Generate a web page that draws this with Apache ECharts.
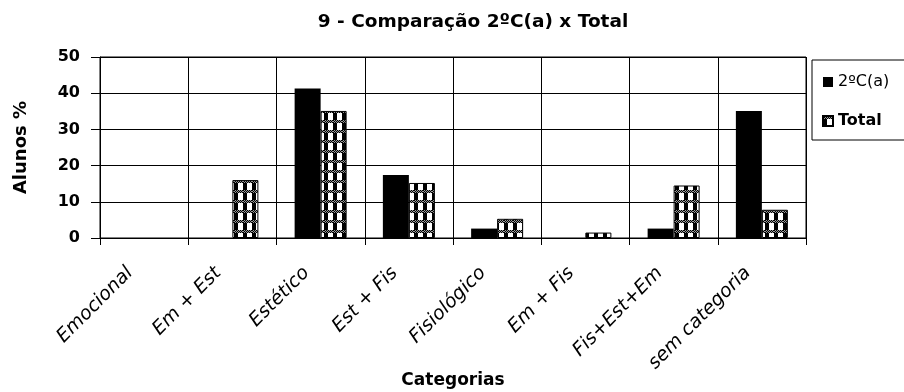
<!DOCTYPE html>
<html>
<head>
<meta charset="utf-8">
<script src="https://cdn.jsdelivr.net/npm/echarts@6/dist/echarts.min.js"></script>
<style>
  html, body { margin: 0; padding: 0; background: #fff; }
  #chart { width: 904px; height: 392px; }
</style>
</head>
<body>
<div id="chart"></div>
<script>
// Categories and percentages of students per category
const categories = ['Emocional', 'Em + Est', 'Estético', 'Est + Fis', 'Fisiológico', 'Em + Fis', 'Fis+Est+Em', 'sem categoria'];
const turma2C = [0, 0, 41.3, 17.4, 2.6, 0, 2.6, 35.1];
const total = [0, 16, 35.1, 15.2, 5.3, 1.5, 14.5, 7.8];
const yTicks = { min: 0, max: 50, interval: 10 };
const seriesNames = ['2ºC(a)', 'Total'];
const chartTitle = '9 - Comparação 2ºC(a) x Total';

// Checkered hatch used to fill the "Total" bars
function makeHatch() {
  const c = document.createElement('canvas');
  c.width = 9; c.height = 10;
  const g = c.getContext('2d');
  g.fillStyle = '#fff';
  g.fillRect(0, 0, 9, 10);
  g.fillStyle = '#000';
  g.fillRect(0, 0, 4, 10);
  for (let y = 0; y < 3; y++) {
    for (let x = 0; x < 9; x++) {
      g.fillStyle = ((x + y) % 2 === 0) ? '#000' : '#999';
      g.fillRect(x, y, 1, 1);
    }
  }
  return c;
}

// Bars at zero are drawn without an outline
function withoutZeroOutline(values) {
  return values.map(v => (v === 0 ? { value: v, itemStyle: { borderWidth: 0 } } : v));
}

const chart = echarts.init(document.getElementById('chart'), null, { renderer: 'canvas' });
const axisFont = 'DejaVu Sans';

chart.setOption({
  animation: false,
  backgroundColor: '#fff',
  title: {
    text: chartTitle,
    left: 468,
    top: 8,
    textAlign: 'center',
    textStyle: { fontFamily: axisFont, fontWeight: 'bold', fontSize: 18.5, color: '#000' }
  },
  legend: {
    orient: 'vertical',
    left: 812,
    top: 60,
    padding: [12, 40, 9, 10],
    itemGap: 19,
    itemWidth: 10,
    itemHeight: 10,
    borderColor: '#000',
    borderWidth: 1,
    textStyle: { fontFamily: axisFont, fontSize: 16, color: '#000', lineHeight: 20 },
    data: [
      { name: seriesNames[0], icon: 'rect', textStyle: { fontWeight: 'normal' } },
      { name: seriesNames[1], icon: 'rect', textStyle: { fontWeight: 'bold' } }
    ]
  },
  grid: {
    left: 100, right: 98, top: 57, bottom: 154,
    outerBoundsMode: 'none',
    containLabel: false,
    show: true, borderColor: '#000', borderWidth: 1
  },
  xAxis: {
    type: 'category',
    data: categories,
    name: 'Categorias',
    nameLocation: 'middle',
    nameGap: 134,
    nameMoveOverlap: false,
    nameTextStyle: { fontFamily: axisFont, fontWeight: 'bold', fontSize: 17, color: '#000' },
    axisLine: { lineStyle: { color: '#000', width: 1 } },
    axisTick: { show: true, length: 7, interval: 0, lineStyle: { color: '#000' } },
    splitLine: { show: true, interval: 0, lineStyle: { color: '#000', width: 1 } },
    axisLabel: {
      interval: 0,
      rotate: 45,
      margin: 18,
      padding: [0, 20, 0, 0],
      fontFamily: axisFont,
      fontStyle: 'italic',
      fontSize: 19,
      color: '#000'
    }
  },
  yAxis: {
    type: 'value',
    min: yTicks.min,
    max: yTicks.max,
    interval: yTicks.interval,
    name: 'Alunos %',
    nameLocation: 'middle',
    nameGap: 70,
    nameRotate: 90,
    nameMoveOverlap: false,
    nameTextStyle: { fontFamily: axisFont, fontWeight: 'bold', fontSize: 18, color: '#000' },
    axisLine: { show: true, lineStyle: { color: '#000', width: 1 } },
    axisTick: { show: true, length: 9, lineStyle: { color: '#000' } },
    splitLine: { show: true, lineStyle: { color: '#000', width: 1 } },
    axisLabel: { margin: 20, fontFamily: axisFont, fontWeight: 'bold', fontSize: 16, color: '#000' }
  },
  series: [
    {
      name: seriesNames[0],
      type: 'bar',
      data: turma2C,
      barWidth: 26,
      barGap: '0%',
      itemStyle: { color: '#000' }
    },
    {
      name: seriesNames[1],
      type: 'bar',
      data: withoutZeroOutline(total),
      barWidth: 26,
      itemStyle: {
        color: { image: makeHatch(), repeat: 'repeat' },
        borderColor: '#000',
        borderWidth: 1
      }
    }
  ]
});
</script>
</body>
</html>
